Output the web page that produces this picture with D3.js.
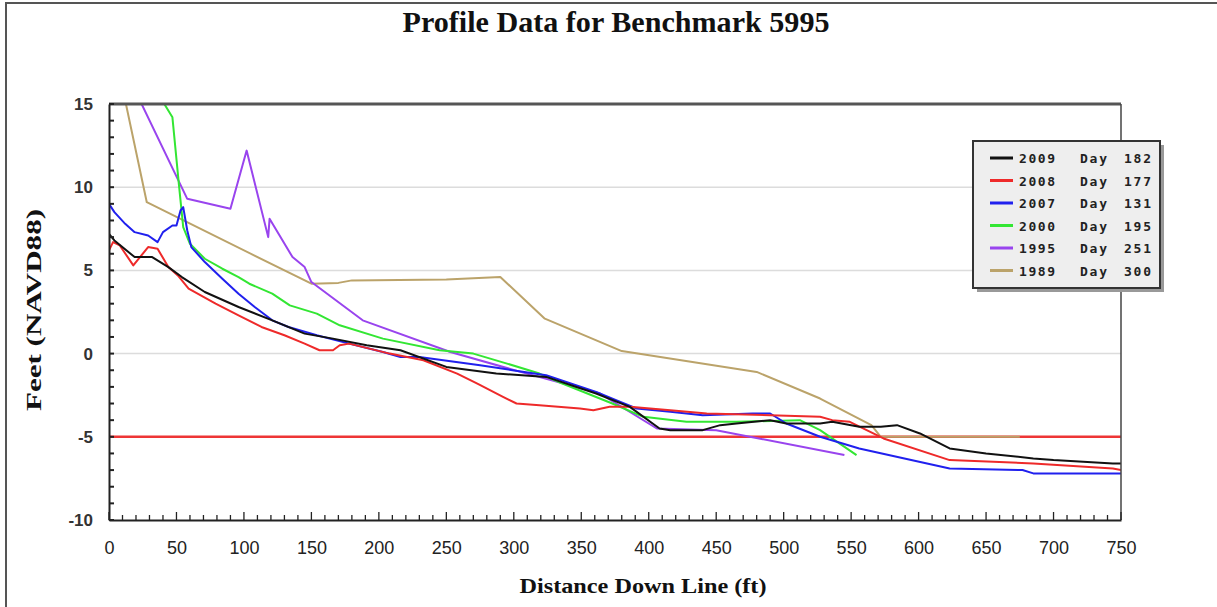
<!DOCTYPE html>
<html><head><meta charset="utf-8">
<script src="https://cdn.jsdelivr.net/npm/d3@7/dist/d3.min.js"></script>
<style>body{margin:0;background:#fff}svg{display:block}</style>
</head><body>
<svg id="c" width="1217" height="607"></svg>
<script>
// ---- data ----
const legendYears = ["2009","2008","2007","2000","1995","1989"];
const legendDays  = ["182","177","131","195","251","300"];
const colors = ["#111111","#ee2a2a","#2020ee","#33e633","#9944ee","#bba36a"];

const x2009 = [0,4,19,32,44,54,71,96,121,145,166,191,216,250,287,324,361,386,408,416,440,453,465,490,502,527,536,556,572,584,601,623,650,685,700,744,750];
const y2009 = [7.2,6.8,5.8,5.8,5.2,4.6,3.7,2.8,2.0,1.2,0.9,0.5,0.2,-0.8,-1.2,-1.4,-2.4,-3.2,-4.5,-4.6,-4.6,-4.3,-4.2,-4.0,-4.2,-4.2,-4.1,-4.4,-4.4,-4.3,-4.8,-5.7,-6.0,-6.3,-6.4,-6.6,-6.6];

const x2008 = [0,3,8,18,29,36,44,51,59,79,96,113,130,145,156,166,171,178,208,233,258,273,292,302,319,349,359,371,386,416,443,490,527,536,549,574,623,685,744,750];
const y2008 = [6.2,6.7,6.5,5.3,6.4,6.3,5.2,4.7,3.9,3.0,2.3,1.6,1.1,0.6,0.2,0.2,0.5,0.6,0.0,-0.4,-1.2,-1.8,-2.6,-3.0,-3.1,-3.3,-3.4,-3.2,-3.2,-3.4,-3.6,-3.7,-3.8,-4.0,-4.1,-5.1,-6.4,-6.6,-6.9,-7.0];

const x2007 = [0,4,12,19,29,36,40,47,50,53,55,58,61,71,84,96,108,121,133,154,178,203,216,230,275,299,324,361,379,391,416,440,477,490,502,527,556,623,677,685,750];
const y2007 = [9.0,8.5,7.8,7.3,7.1,6.7,7.3,7.7,7.7,8.6,8.8,7.4,6.4,5.5,4.5,3.6,2.8,2.0,1.6,1.1,0.6,0.1,-0.2,-0.2,-0.7,-1.0,-1.3,-2.3,-2.9,-3.3,-3.5,-3.7,-3.6,-3.6,-4.2,-5.0,-5.7,-6.9,-7.0,-7.2,-7.2];

const x2000 = [30,41,47,52,55,60,71,84,96,104,121,134,154,171,203,245,270,295,319,336,373,396,428,465,512,527,554];
const y2000 = [16.7,15.0,14.2,10.0,7.6,6.6,5.7,5.1,4.6,4.2,3.6,2.9,2.4,1.7,0.9,0.2,0.0,-0.6,-1.2,-1.8,-3.0,-3.8,-4.1,-4.1,-4.0,-4.6,-6.1];

const x1995 = [20,58,90,102,118,119,136,145,150,188,253,305,364,406,450,545];
const y1995 = [15.7,9.3,8.7,12.2,7.0,8.1,5.8,5.2,4.3,2.0,0.1,-1.1,-2.4,-4.5,-4.6,-6.1];

const x1989 = [6,28,150,170,180,250,290,323,380,480,527,565,572,675];
const y1989 = [17.5,9.1,4.2,4.25,4.4,4.45,4.6,2.1,0.15,-1.1,-2.7,-4.3,-5.0,-5.0];

const xTicks = [0,50,100,150,200,250,300,350,400,450,500,550,600,650,700,750];
const yTicks = [-10,-5,0,5,10,15];
const refLevel = -5;

const seriesX = [x2009,x2008,x2007,x2000,x1995,x1989];
const seriesY = [y2009,y2008,y2007,y2000,y1995,y1989];

// ---- drawing ----
const svg = d3.select("#c");
const L=109, R=1121, T=104, B=520;
const x = d3.scaleLinear().domain([0,750]).range([L,R]);
const y = d3.scaleLinear().domain([-10,15]).range([B,T]);

// outer frame
svg.append("rect").attr("x",6).attr("y",3).attr("width",1230).attr("height",620)
  .attr("fill","none").attr("stroke","#555").attr("stroke-width",2);

// title
svg.append("text").attr("x",616).attr("y",32).attr("text-anchor","middle")
  .attr("font-family","Liberation Serif").attr("font-weight","bold").attr("font-size",29)
  .attr("textLength",427).attr("lengthAdjust","spacingAndGlyphs").attr("fill","#111")
  .text("Profile Data for Benchmark 5995");

// gridlines
svg.append("g").selectAll("line").data(yTicks.filter(d=>d>-10&&d<15)).join("line")
  .attr("x1",L).attr("x2",R).attr("y1",d=>y(d)).attr("y2",d=>y(d))
  .attr("stroke","#dcdcdc").attr("stroke-width",1.5);

// reference line
svg.append("line").attr("x1",L).attr("x2",R).attr("y1",y(refLevel)).attr("y2",y(refLevel))
  .attr("stroke","#ee3535").attr("stroke-width",2.5);

// clip
svg.append("clipPath").attr("id","clip").append("rect")
  .attr("x",L).attr("y",T).attr("width",R-L).attr("height",B-T);

const line = d3.line().x(d=>x(d[0])).y(d=>y(d[1]));
const g = svg.append("g").attr("clip-path","url(#clip)");
for (let i=seriesX.length-1;i>=0;i--){
  const pts = seriesX[i].map((v,j)=>[v,seriesY[i][j]]);
  g.append("path").datum(pts).attr("d",line).attr("fill","none")
    .attr("stroke",colors[i]).attr("stroke-width",2).attr("stroke-linejoin","round");
}

// frame of plot
svg.append("line").attr("x1",L).attr("x2",R).attr("y1",T).attr("y2",T).attr("stroke","#555").attr("stroke-width",3);
svg.append("line").attr("x1",R).attr("x2",R).attr("y1",T).attr("y2",B).attr("stroke","#444").attr("stroke-width",1.5);

// axes
const xAxis = d3.axisBottom(x).tickValues(xTicks).tickSize(0).tickPadding(21).tickFormat(d3.format("d"));
const gx = svg.append("g").attr("transform",`translate(0,${B})`).call(xAxis);
gx.select(".domain").attr("stroke","#222").attr("stroke-width",2);
gx.selectAll("text").attr("font-family","Liberation Sans Narrow, Liberation Sans").attr("font-size",18).attr("fill","#222");
const xMinor = d3.range(0,751,10);
svg.append("g").selectAll("line").data(xMinor).join("line")
  .attr("x1",d=>x(d)).attr("x2",d=>x(d)).attr("y1",B).attr("y2",d=>B-(d%50===0?8:5))
  .attr("stroke","#222").attr("stroke-width",1.3);

const yAxis = d3.axisLeft(y).tickValues(yTicks).tickSize(0).tickPadding(16)
  .tickFormat(d=>String(d));
const gy = svg.append("g").attr("transform",`translate(${L},0)`).call(yAxis);
gy.select(".domain").attr("stroke","#222").attr("stroke-width",2);
gy.selectAll("text").attr("font-family","Liberation Sans").attr("font-weight","bold").attr("font-size",17).attr("fill","#333");
const yMinor = d3.range(-10,15.01,1);
svg.append("g").selectAll("line").data(yMinor).join("line")
  .attr("x1",L).attr("x2",L+5).attr("y1",d=>y(d)).attr("y2",d=>y(d))
  .attr("stroke","#222").attr("stroke-width",2);

// axis titles
svg.append("text").attr("x",643).attr("y",593).attr("text-anchor","middle")
  .attr("font-family","Liberation Serif").attr("font-weight","bold").attr("font-size",22)
  .attr("textLength",247).attr("lengthAdjust","spacingAndGlyphs").attr("fill","#111")
  .text("Distance Down Line (ft)");
svg.append("text").attr("transform","translate(41,310) rotate(-90)").attr("text-anchor","middle")
  .attr("font-family","Liberation Serif").attr("font-weight","bold").attr("font-size",22)
  .attr("textLength",202).attr("lengthAdjust","spacingAndGlyphs").attr("fill","#111")
  .text("Feet (NAVD88)");

// legend
const lg = svg.append("g");
lg.append("rect").attr("x",977).attr("y",145).attr("width",187).attr("height",147).attr("fill","#999");
lg.append("rect").attr("x",973).attr("y",141).attr("width",187).attr("height",147)
  .attr("fill","#eeeeee").attr("stroke","#333").attr("stroke-width",2);
legendYears.forEach((yr,i)=>{
  const yy = 158 + i*22.5;
  lg.append("line").attr("x1",990).attr("x2",1013).attr("y1",yy).attr("y2",yy)
    .attr("stroke",colors[i]).attr("stroke-width",3);
  const t = (tx,s)=>lg.append("text").attr("x",tx).attr("y",yy+5)
    .attr("font-family","DejaVu Sans Mono").attr("font-weight","bold").attr("font-size",13)
    .attr("fill","#222").text(s);
  t(1019,yr).attr("textLength",36).attr("lengthAdjust","spacing");
  t(1080,"Day").attr("textLength",27).attr("lengthAdjust","spacing");
  t(1124,legendDays[i]).attr("textLength",27).attr("lengthAdjust","spacing");
});
</script>
</body></html>
